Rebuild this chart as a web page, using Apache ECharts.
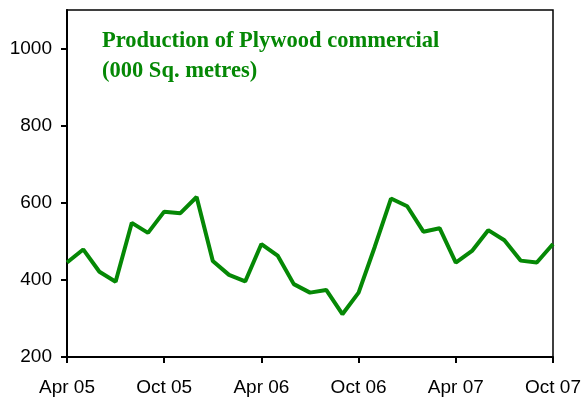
<!DOCTYPE html>
<html lang="en">
<head>
  <meta charset="utf-8">
  <title>Production of Plywood commercial</title>
  <style>
    body { margin: 0; background: #fff; }
    #chart { width: 584px; height: 400px; }
  </style>
</head>
<body>
  <div id="chart"></div>
  <script src="https://cdn.jsdelivr.net/npm/echarts@6/dist/echarts.min.js"></script>
  <script>
    // months Apr 05 .. Oct 07
    var months = ['Apr 05', 'May 05', 'Jun 05', 'Jul 05', 'Aug 05', 'Sep 05', 'Oct 05', 'Nov 05', 'Dec 05',
      'Jan 06', 'Feb 06', 'Mar 06', 'Apr 06', 'May 06', 'Jun 06', 'Jul 06', 'Aug 06', 'Sep 06', 'Oct 06',
      'Nov 06', 'Dec 06', 'Jan 07', 'Feb 07', 'Mar 07', 'Apr 07', 'May 07', 'Jun 07', 'Jul 07', 'Aug 07',
      'Sep 07', 'Oct 07'];
    // production, 000 sq. metres
    var production = [445, 479, 421, 395, 548, 522, 577, 573, 615,
      449, 413, 396, 493, 463, 389, 367, 374, 311, 367,
      486, 611, 591, 525, 534, 445, 475, 529, 503, 450,
      445, 493];

    var myChart = echarts.init(document.getElementById('chart'));
    var green = '#058805';

    var option = {
      animation: false,
      title: {
        text: 'Production of Plywood commercial\n(000 Sq. metres)',
        left: 97,
        top: 21,
        textStyle: {
          fontFamily: 'Liberation Serif',
          fontWeight: 'bold',
          fontSize: 22.5,
          color: green,
          lineHeight: 30
        }
      },
      grid: {
        left: 67,
        right: 31,
        top: 10,
        bottom: 43,
        show: true,
        borderColor: '#000',
        borderWidth: 1.5
      },
      xAxis: {
        type: 'category',
        data: months,
        boundaryGap: false,
        axisLine: { lineStyle: { color: '#000', width: 2 } },
        axisTick: { interval: 5, length: 6, lineStyle: { color: '#000', width: 2 } },
        axisLabel: {
          interval: 5,
          color: '#000',
          fontFamily: 'Liberation Sans',
          fontSize: 19,
          margin: 21
        },
        splitLine: { show: false }
      },
      yAxis: {
        type: 'value',
        min: 200,
        max: 1100,
        interval: 200,
        axisLine: { show: true, lineStyle: { color: '#000', width: 2 } },
        axisTick: { show: true, length: 6, lineStyle: { color: '#000', width: 2 } },
        axisLabel: {
          color: '#000',
          fontFamily: 'Liberation Sans',
          fontSize: 19,
          margin: 15,
          showMaxLabel: false,
          formatter: function (v) { return String(v); }
        },
        splitLine: { show: false }
      },
      series: [{
        type: 'line',
        data: production,
        symbol: 'none',
        lineStyle: { color: green, width: 4 }
      }]
    };
    myChart.setOption(option);
  </script>
</body>
</html>
